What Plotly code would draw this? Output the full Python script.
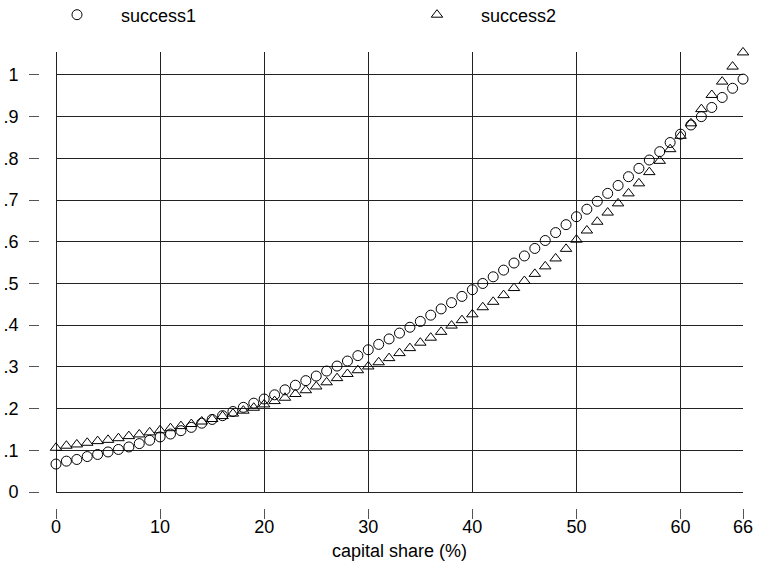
import plotly.graph_objects as go

capital_share = list(range(67))

success1 = [0.067, 0.074, 0.078, 0.085, 0.090, 0.096, 0.102, 0.108, 0.116, 0.124,
            0.132, 0.139, 0.147, 0.155, 0.165, 0.174, 0.183, 0.193, 0.203, 0.213,
            0.223, 0.233, 0.245, 0.256, 0.267, 0.278, 0.290, 0.302, 0.314, 0.327,
            0.341, 0.354, 0.367, 0.381, 0.395, 0.409, 0.424, 0.439, 0.454, 0.469,
            0.485, 0.500, 0.516, 0.532, 0.549, 0.566, 0.584, 0.603, 0.622, 0.641,
            0.660, 0.678, 0.697, 0.716, 0.735, 0.756, 0.776, 0.796, 0.816, 0.838,
            0.858, 0.880, 0.900, 0.922, 0.946, 0.968, 0.990]

success2 = [0.106, 0.111, 0.114, 0.118, 0.122, 0.125, 0.129, 0.134, 0.138, 0.143,
            0.148, 0.153, 0.158, 0.163, 0.169, 0.175, 0.182, 0.188, 0.195, 0.202,
            0.210, 0.218, 0.226, 0.235, 0.244, 0.253, 0.263, 0.273, 0.283, 0.292,
            0.301, 0.311, 0.321, 0.333, 0.345, 0.358, 0.370, 0.384, 0.399, 0.412,
            0.426, 0.443, 0.456, 0.472, 0.489, 0.506, 0.523, 0.541, 0.560, 0.583,
            0.605, 0.627, 0.648, 0.670, 0.692, 0.716, 0.740, 0.767, 0.794, 0.822,
            0.854, 0.884, 0.918, 0.952, 0.984, 1.020, 1.054]

x_tickvals = [0, 10, 20, 30, 40, 50, 60, 66]
y_tickvals = [0, 0.1, 0.2, 0.3, 0.4, 0.5, 0.6, 0.7, 0.8, 0.9, 1.0]
y_ticktext = ["0", ".1", ".2", ".3", ".4", ".5", ".6", ".7", ".8", ".9", "1"]

FONT = "Liberation Sans, Arial, sans-serif"

fig = go.Figure()
fig.add_trace(go.Scatter(
    x=capital_share, y=success1, mode="markers", name="success1",
    marker=dict(symbol="circle-open", size=10, color="black", line=dict(width=1, color="black")),
    cliponaxis=False,
))
fig.add_trace(go.Scatter(
    x=capital_share, y=success2, mode="markers", name="success2",
    marker=dict(symbol="triangle-up-open", size=10, color="black", line=dict(width=1, color="black")),
    cliponaxis=False,
))

W, H = 757, 561
ml, mr, mt, mb = 39, 14, 52, 53
pw = W - ml - mr
ph = H - mt - mb

fig.update_layout(
    width=W, height=H,
    margin=dict(l=ml, r=mr, t=mt, b=mb, pad=0, autoexpand=False),
    paper_bgcolor="white", plot_bgcolor="white",
    font=dict(family=FONT, size=18, color="black"),
    showlegend=True,
    legend=dict(
        orientation="h", x=(33 - ml) / pw, xanchor="left",
        y=(H - mb - 15) / ph, yanchor="middle",
        itemwidth=78, entrywidth=267, font=dict(size=18),
        bgcolor="rgba(0,0,0,0)", borderwidth=0,
    ),
    xaxis=dict(
        domain=[(56 - ml) / pw, 1], range=[0, 66], anchor="free", position=0,
        tickvals=x_tickvals, ticks="outside", ticklen=10, tickcolor="#555", tickwidth=1,
        ticklabelstandoff=-8,
        showline=False, showgrid=True, gridcolor="#222", gridwidth=1,
        zeroline=True, zerolinecolor="#222", zerolinewidth=1,
        title=dict(text="capital share (%)", standoff=8, font=dict(size=18)),
        tickfont=dict(size=18),
    ),
    yaxis=dict(
        domain=[(508 - 492) / ph, 1], range=[0, 1.055], anchor="free", position=0,
        tickvals=y_tickvals, ticktext=y_ticktext, ticks="outside", ticklen=10,
        tickcolor="#555", tickwidth=1, ticklabelstandoff=7,
        showline=False, showgrid=True, gridcolor="#222", gridwidth=1,
        zeroline=True, zerolinecolor="#222", zerolinewidth=1,
        tickfont=dict(size=18),
    ),
)

fig.write_html("out.html", config={"displayModeBar": False},
               post_script="document.body.style.margin='0';")
